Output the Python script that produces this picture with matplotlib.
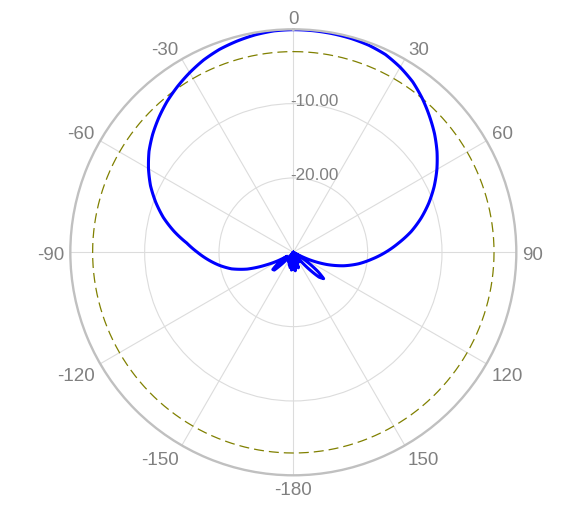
import numpy as np
import matplotlib
matplotlib.use("Agg")
import matplotlib.pyplot as plt

# ---- data ----
theta_deg = [-180, -177, -174, -171, -168, -165, -162, -158, -155, -152, -148, -144,
             -140, -137, -133, -130, -126, -122, -120, -115, -110, -105, -100, -95,
             -90, -85, -80, -75, -70, -65, -60, -55, -50, -45, -40, -35, -30, -25,
             -20, -15, -10, -5, 0, 5, 10, 15, 20, 25, 30, 35, 40, 45, 50, 55, 60,
             65, 70, 75, 80, 85, 90, 95, 100, 105, 110, 115, 118, 120, 124, 128,
             131, 134, 138, 142, 145, 148, 151, 155, 158, 162, 165, 168, 171, 174,
             177, 180]
gain_db = [-27.8, -29.5, -27.6, -29.2, -27.9, -30.0, -28.2, -30.0, -28.5, -30.0, -28.8, -30.0,
           -30.0, -28.5, -26.5, -26.4, -27.5, -29.0, -28.2, -26.0, -23.4, -21.4, -19.9, -18.5,
           -17.1, -15.6, -13.7, -11.9, -10.3, -8.8, -7.5, -6.3, -5.3, -4.4, -3.55, -2.8, -2.1, -1.45,
           -0.95, -0.6, -0.3, -0.1, -0.05, -0.07, -0.12, -0.2, -0.35, -0.65, -1.25, -2.0, -3.0,
           -4.1, -5.2, -6.4, -7.7, -9.1, -10.6, -12.2, -13.9, -15.8, -17.6, -19.4, -21.1, -23.0,
           -25.2, -27.7, -29.6, -30.0, -28.0, -25.8, -24.6, -25.2, -27.5, -30.0, -30.0, -28.5,
           -30.0, -29.0, -30.0, -27.8, -30.0, -28.0, -29.5, -27.5, -29.0, -27.8]

ref_level_db = -3.0
r_min, r_max = -30, 0
r_ticks = [-20, -10]
r_tick_labels = ["-20.00", "-10.00"]
theta_ticks = [0, 30, 60, 90, 120, 150, 180, 210, 240, 270, 300, 330]
theta_tick_labels = ["0", "30", "60", "90", "120", "150", "-180", "-150", "-120", "-90", "-60", "-30"]

plt.rcParams['font.family'] = ['Liberation Sans', 'DejaVu Sans']

fig = plt.figure(figsize=(5.88, 5.06), dpi=100)
ax = fig.add_axes([0.1196, 0.0587, 0.7585, 0.8814], projection='polar')
ax.set_theta_zero_location('N')
ax.set_theta_direction(-1)
ax.set_ylim(r_min, r_max)

grid_col = '#dcdcdc'
label_col = '#808080'
spine_col = '#c0c0c0'

ax.set_xticks(np.radians(theta_ticks))
ax.set_xticklabels([])
ax.set_xticks(np.radians(np.arange(0, 360, 15)), minor=True)
ax.tick_params(axis='x', which='major', direction='in', length=9, width=1.8, color=spine_col)
ax.tick_params(axis='x', which='minor', direction='in', length=5, width=1.3, color=spine_col)
ax.set_yticks(r_ticks)
ax.set_yticklabels([])
ax.tick_params(axis='y', length=0)
ax.grid(True, color=grid_col, linewidth=0.8)
ax.spines['polar'].set_color(spine_col)
ax.spines['polar'].set_linewidth(1.7)

# theta labels just outside the outer circle, aligned by their nearest edge
for t, lab in zip(theta_ticks, theta_tick_labels):
    a = np.radians(t)
    s, c = np.sin(a), np.cos(a)
    ha = 'left' if s > 0.1 else ('right' if s < -0.1 else 'center')
    va = 'baseline' if c > 0.1 else ('top' if c < -0.1 else 'center_baseline')
    off = 4.4
    ax.annotate(lab, xy=(a, r_max), xycoords='data',
                xytext=(off * s, off * c), textcoords='offset points',
                ha=ha, va=va, fontsize=13.5, color=label_col, annotation_clip=False)

for r, lab in zip(r_ticks, r_tick_labels):
    ax.annotate(lab, xy=(0, r), xycoords='data', xytext=(-2, -1), textcoords='offset points',
                ha='left', va='baseline', fontsize=12.3, color=label_col)

circ_t = np.radians(np.linspace(0, 360, 721))
ax.plot(circ_t, np.full_like(circ_t, ref_level_db), color='#808000', lw=0.9,
        linestyle=(0, (8, 4)))

th = np.radians(theta_deg)
g = np.clip(np.array(gain_db), r_min, r_max)
line, = ax.plot(th, g, color='#0000ff', lw=2.2, solid_joinstyle='round')
line.get_path()._interpolation_steps = 16

fig.savefig('out.png', dpi=100)
